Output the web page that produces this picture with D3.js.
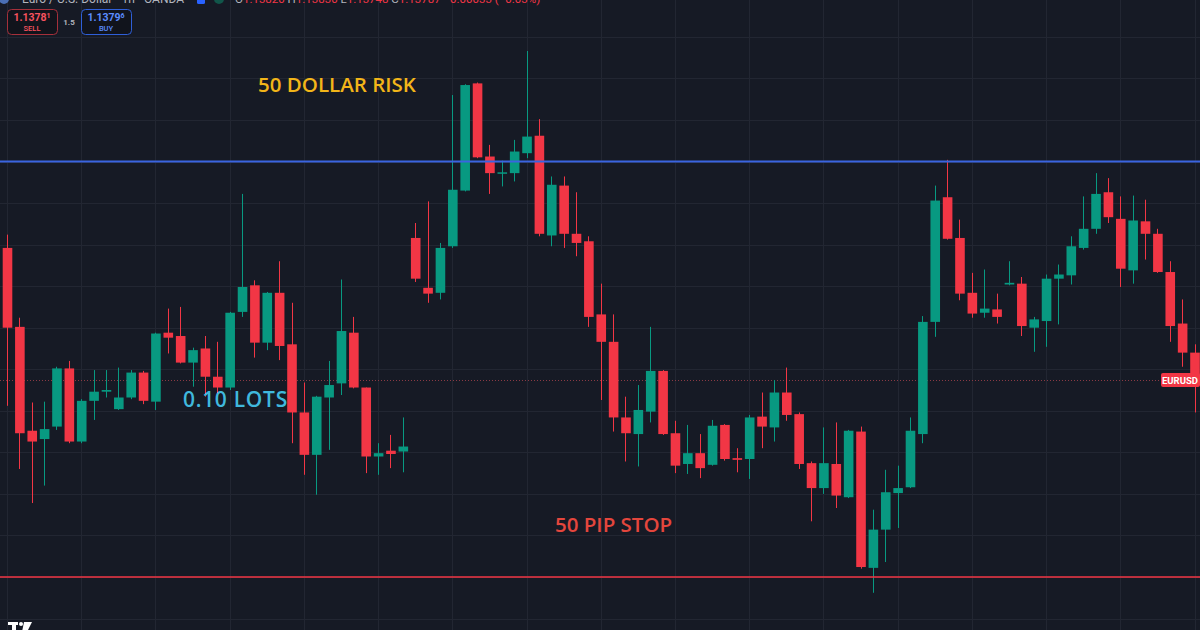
<!DOCTYPE html>
<html>
<head>
<meta charset="utf-8">
<script src="https://cdn.jsdelivr.net/npm/d3@7"></script>
<style>
  body { margin: 0; background: #161a25; }
  svg { display: block; }
</style>
</head>
<body>
<svg id="chart" width="1200" height="630"></svg>
<script>
// EURUSD 1h candles
const opens = [1.13946,1.13851,1.13726,1.13716,1.13731,1.13801,1.13713,1.13762,1.13773,1.13752,
  1.13766,1.13796,1.13761,1.13844,1.13840,1.13808,1.13825,1.13791,1.13778,1.13869,
  1.13901,1.13832,1.13892,1.13830,1.13748,1.13697,1.13766,1.13783,1.13844,1.13778,
  1.13695,1.13702,1.13701,1.13958,1.13898,1.13892,1.13948,1.14015,1.14144,1.14056,
  1.14036,1.14036,1.14060,1.14081,1.13961,1.14021,1.13963,1.13954,1.13866,1.13833,
  1.13742,1.13722,1.13749,1.13798,1.13723,1.13686,1.13699,1.13685,1.13733,1.13693,
  1.13692,1.13743,1.13730,1.13772,1.13746,1.13687,1.13657,1.13686,1.13646,1.13725,
  1.13561,1.13607,1.13651,1.13658,1.13722,1.13857,1.14007,1.13958,1.13892,1.13868,
  1.13872,1.13902,1.13903,1.13850,1.13858,1.13909,1.13913,1.13946,1.13969,1.14013,
  1.13981,1.13919,1.13978,1.13963,1.13917,1.13855,1.13820]
const highs = [1.13962,1.13862,1.13760,1.13761,1.13803,1.13810,1.13764,1.13799,1.13799,1.13802,
  1.13799,1.13798,1.13844,1.13873,1.13875,1.13826,1.13840,1.13833,1.13869,1.14011,
  1.13907,1.13893,1.13930,1.13880,1.13784,1.13768,1.13810,1.13908,1.13863,1.13778,
  1.13711,1.13721,1.13742,1.13976,1.14002,1.13952,1.14130,1.14143,1.14145,1.14070,
  1.14051,1.14076,1.14183,1.14101,1.14032,1.14032,1.14013,1.13960,1.13903,1.13866,
  1.13767,1.13781,1.13851,1.13799,1.13738,1.13733,1.13722,1.13739,1.13734,1.13705,
  1.13745,1.13772,1.13787,1.13802,1.13748,1.13689,1.13730,1.13736,1.13727,1.13731,
  1.13631,1.13679,1.13684,1.13742,1.13864,1.14021,1.14052,1.13980,1.13916,1.13920,
  1.13891,1.13930,1.13911,1.13863,1.13914,1.13926,1.13960,1.14008,1.14036,1.14030,
  1.14008,1.14009,1.14004,1.13969,1.13930,1.13884,1.13830]
const lows = [1.13756,1.13680,1.13639,1.13660,1.13727,1.13711,1.13711,1.13739,1.13766,1.13751,
  1.13764,1.13758,1.13751,1.13819,1.13807,1.13779,1.13767,1.13767,1.13775,1.13863,
  1.13814,1.13823,1.13811,1.13711,1.13673,1.13649,1.13703,1.13769,1.13777,1.13675,
  1.13673,1.13681,1.13676,1.13905,1.13880,1.13884,1.13946,1.14014,1.14054,1.14011,
  1.14020,1.14026,1.14054,1.13960,1.13948,1.13946,1.13936,1.13851,1.13763,1.13725,
  1.13689,1.13683,1.13736,1.13721,1.13675,1.13674,1.13669,1.13684,1.13690,1.13676,
  1.13668,1.13705,1.13713,1.13738,1.13680,1.13617,1.13650,1.13633,1.13645,1.13560,
  1.13531,1.13568,1.13609,1.13657,1.13711,1.13839,1.13956,1.13883,1.13862,1.13862,
  1.13855,1.13901,1.13840,1.13821,1.13827,1.13854,1.13902,1.13944,1.13963,1.13976,
  1.13899,1.13903,1.13932,1.13916,1.13833,1.13803,1.13748]
const closes = [1.13850,1.13723,1.13713,1.13728,1.13801,1.13713,1.13762,1.13773,1.13775,1.13766,
  1.13796,1.13762,1.13843,1.13838,1.13808,1.13823,1.13791,1.13778,1.13868,1.13899,
  1.13832,1.13892,1.13828,1.13748,1.13697,1.13767,1.13781,1.13846,1.13778,1.13695,
  1.13699,1.13698,1.13707,1.13909,1.13891,1.13946,1.14016,1.14142,1.14055,1.14036,
  1.14037,1.14062,1.14080,1.13963,1.14022,1.13963,1.13952,1.13863,1.13833,1.13742,
  1.13723,1.13751,1.13798,1.13722,1.13684,1.13699,1.13681,1.13732,1.13692,1.13691,
  1.13742,1.13731,1.13772,1.13745,1.13686,1.13657,1.13687,1.13648,1.13726,1.13562,
  1.13607,1.13652,1.13657,1.13726,1.13857,1.14003,1.13957,1.13891,1.13867,1.13873,
  1.13863,1.13904,1.13852,1.13860,1.13909,1.13914,1.13948,1.13969,1.14011,1.13983,
  1.13921,1.13979,1.13963,1.13917,1.13852,1.13820,1.13787]

const gridPrices = [1.1420,1.1415,1.1410,1.1405,1.1400,1.1395,1.1390,1.1385,1.1380,
  1.1375,1.1370,1.1365,1.1360,1.1355,1.1350]
const entryPrice = 1.1405   // blue line
const stopPrice = 1.1355    // red line, 50 pips lower
const lastPrice = 1.13787
const symbol = "EURUSD"
const sellQuote = ["1.1378", "1"]
const buyQuote = ["1.1379", "6"]
const spread = "1.5"

const W = 1200, H = 630
const upColor = "#089981", downColor = "#f23645"

const svg = d3.select("#chart")
svg.append("rect").attr("width", W).attr("height", H).attr("fill", "#161a25")

const candles = opens.map((o, i) => ({ i, o, h: highs[i], l: lows[i], c: closes[i] }))

const x = d3.scaleLinear().domain([0, candles.length - 1]).range([7, 1194.5])
const y = d3.scaleLinear().domain([stopPrice, entryPrice]).range([577, 161.5])
const bodyW = 9.6

// grid
const grid = svg.append("g").attr("stroke", "#222632").attr("stroke-width", 1)
grid.selectAll("line.h").data(gridPrices).join("line")
    .attr("x1", 0).attr("x2", W)
    .attr("y1", d => Math.round(y(d)) + 0.5).attr("y2", d => Math.round(y(d)) + 0.5)
grid.selectAll("line.v").data(candles.filter(d => d.i % 6 === 0)).join("line")
    .attr("y1", 0).attr("y2", H)
    .attr("x1", d => Math.round(x(d.i)) + 0.5).attr("x2", d => Math.round(x(d.i)) + 0.5)

// last price dotted line
svg.append("line")
    .attr("x1", 0).attr("x2", 1160)
    .attr("y1", Math.round(y(lastPrice)) + 0.5).attr("y2", Math.round(y(lastPrice)) + 0.5)
    .attr("stroke", "#8a3a44").attr("stroke-width", 1).attr("stroke-dasharray", "1,2")

// candles
const cg = svg.append("g")
cg.selectAll("line").data(candles).join("line")
    .attr("x1", d => Math.round(x(d.i)) + 0.5).attr("x2", d => Math.round(x(d.i)) + 0.5)
    .attr("y1", d => y(d.h)).attr("y2", d => y(d.l))
    .attr("stroke", d => d.c >= d.o ? upColor : downColor)
    .attr("stroke-width", 1)
cg.selectAll("rect").data(candles).join("rect")
    .attr("x", d => x(d.i) - bodyW / 2 + 0.5)
    .attr("width", bodyW)
    .attr("y", d => y(Math.max(d.o, d.c)))
    .attr("height", d => Math.max(1.5, Math.abs(y(d.o) - y(d.c))))
    .attr("fill", d => d.c >= d.o ? upColor : downColor)

// entry & stop lines
svg.append("line").attr("x1", 0).attr("x2", W)
    .attr("y1", y(entryPrice)).attr("y2", y(entryPrice))
    .attr("stroke", "#3a64e0").attr("stroke-width", 1.8)
svg.append("line").attr("x1", 0).attr("x2", W)
    .attr("y1", y(stopPrice)).attr("y2", y(stopPrice))
    .attr("stroke", "#f23645").attr("stroke-width", 1.6)

// annotations
const font = "'Open Sans', sans-serif"
svg.append("text").attr("x", 258).attr("y", 92)
    .attr("font-family", font).attr("font-weight", 600).attr("font-size", 20.5)
    .attr("fill", "#f2b519").text("50 DOLLAR RISK")
svg.append("text").attr("x", 183).attr("y", 407)
    .attr("font-family", font).attr("font-weight", 600).attr("font-size", 21)
    .attr("letter-spacing", 0.7)
    .attr("fill", "#40b8dd").text("0.10 LOTS")
svg.append("text").attr("x", 555).attr("y", 532)
    .attr("font-family", font).attr("font-weight", 600).attr("font-size", 20.5)
    .attr("fill", "#e4463d").text("50 PIP STOP")

// symbol tag on the right
const ly = y(lastPrice)
svg.append("rect").attr("x", 1161).attr("y", ly - 7).attr("width", 39).attr("height", 14)
    .attr("rx", 2).attr("fill", "#f23645")
svg.append("text").attr("x", 1180).attr("y", ly + 3.5).attr("text-anchor", "middle")
    .attr("font-family", "'Liberation Sans Narrow', 'Roboto', sans-serif")
    .attr("font-weight", 700).attr("font-size", 9.5).attr("fill", "#fff").text(symbol)

// header (clipped at the top of the shot, as in the screenshot)
const head = svg.append("g").attr("font-family", "Roboto, sans-serif").attr("font-size", 12)
head.append("circle").attr("cx", 4).attr("cy", -1).attr("r", 5).attr("fill", "#4a6fb5")
head.append("text").attr("x", 22).attr("y", 3).attr("fill", "#b2b5be")
    .text("Euro / U.S. Dollar · 1h · OANDA")
head.append("rect").attr("x", 197).attr("y", -4).attr("width", 8).attr("height", 8).attr("rx", 1.5)
    .attr("fill", "#2962ff")
head.append("circle").attr("cx", 219).attr("cy", -1).attr("r", 5).attr("fill", "#11564a")
const ohlc = head.append("text").attr("x", 235).attr("y", 3).attr("font-size", 11.5)
;[["O", opens[opens.length - 1]], ["H", highs[highs.length - 1]], ["L", lows[lows.length - 1]],
  ["C", closes[closes.length - 1]]].forEach(([k, v]) => {
  ohlc.append("tspan").attr("fill", "#b2b5be").text(k)
  ohlc.append("tspan").attr("fill", downColor).text(d3.format(".5f")(v) + " ")
})
ohlc.append("tspan").attr("fill", downColor).text("−0.00033 (−0.03%)")

// sell / buy boxes
function quoteBox(x0, quote, label, stroke, fill) {
  const g = svg.append("g").attr("font-family", "Roboto, sans-serif").attr("font-weight", 700)
  g.append("rect").attr("x", x0 + 0.5).attr("y", 9.5).attr("width", 50).attr("height", 25)
      .attr("rx", 4).attr("fill", "#11141c").attr("stroke", stroke).attr("stroke-width", 1)
  const t = g.append("text").attr("x", x0 + 25).attr("y", 21).attr("text-anchor", "middle")
      .attr("font-size", 10.5).attr("fill", fill)
  t.append("tspan").text(quote[0])
  t.append("tspan").attr("font-size", 7).attr("dy", -3).text(quote[1])
  g.append("text").attr("x", x0 + 25).attr("y", 31).attr("text-anchor", "middle")
      .attr("font-size", 7.5).attr("font-weight", 500).attr("fill", fill).text(label)
}
quoteBox(7, sellQuote, "SELL", "#a5303b", "#f7525f")
quoteBox(81, buyQuote, "BUY", "#2f5fd8", "#5b8cff")
svg.append("text").attr("x", 69).attr("y", 25).attr("text-anchor", "middle")
    .attr("font-family", "Roboto, sans-serif").attr("font-size", 8).attr("font-weight", 700)
    .attr("fill", "#b2b5be").text(spread)

// TradingView logo, cut off at the bottom
const logo = svg.append("g").attr("fill", "#ffffff")
logo.append("rect").attr("x", 8).attr("y", 622).attr("width", 10).attr("height", 3)
logo.append("rect").attr("x", 12).attr("y", 622).attr("width", 4).attr("height", 10)
logo.append("circle").attr("cx", 21).attr("cy", 624).attr("r", 2)
logo.append("path").attr("d", "M24,622 L32,622 L27,632 L22,632 Z")
</script>
</body>
</html>
